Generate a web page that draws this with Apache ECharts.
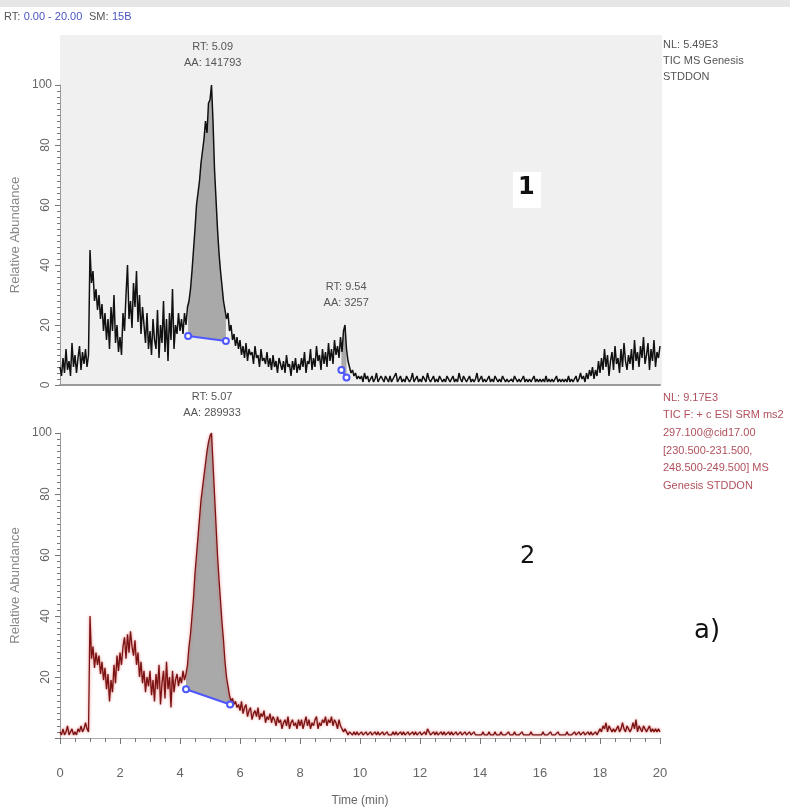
<!DOCTYPE html>
<html>
<head>
<meta charset="utf-8">
<script src="https://cdn.jsdelivr.net/npm/echarts@6/dist/echarts.min.js"></script>
<style>html,body{margin:0;padding:0;background:#fff}#c{width:790px;height:812px}</style>
</head>
<body>
<div id="c"></div>
<script>
// ---- data (time step 0.05 min, 0.00 .. 20.00) ----
const timeStep = 0.05;
const topTrace = [
 6,3,9,4,12,5,8,3,14,6,10,4,9,13,5,11,7,12,6,10,
 45,34,38,28,32,25,30,22,27,18,24,15,22,12,26,18,30,14,20,11,
 16,10,24,18,30,40,22,28,19,34,26,38,21,30,17,26,20,14,24,12,
 18,10,22,15,12,25,9,20,14,28,11,22,8,24,15,32,12,20,17,24,
 18,22,17,24,20,26,28,32,38,45,52,60,64,68,74,78,82,88,84,94,
 95,100,88,72,62,52,44,38,33,28,25,22,24,18,20,15,17,13,16,12,
 15,10,13,9,14,8,12,10,11,7,13,9,10,6,12,8,9,7,11,6,
 9,5,10,6,8,4,9,7,5,8,4,10,6,7,3,8,5,9,4,7,
 5,9,6,11,4,8,7,12,5,9,6,13,8,10,5,12,7,11,6,14,
 8,12,7,15,10,13,9,16,11,18,20,12,8,6,4,5,3,4,2,3,
 2,3,1,4,2,3,1,2,3,1,2,4,1,2,3,2,1,3,2,1,
 3,1,2,2,4,1,2,3,1,2,1,3,2,1,2,4,1,2,3,1,
 2,1,3,2,1,4,2,1,2,3,1,2,1,3,2,1,2,1,3,2,
 1,2,3,1,2,1,4,2,1,3,2,1,2,3,1,2,1,2,4,1,
 2,3,1,2,1,2,3,1,2,1,3,2,1,2,1,3,2,1,2,1,
 1,2,1,3,2,1,2,1,2,3,1,2,1,2,1,2,3,1,2,1,
 2,1,2,1,3,1,2,1,2,1,2,3,1,2,1,2,1,2,1,3,
 1,2,1,2,3,1,2,4,2,3,1,4,2,5,3,6,2,5,3,8,
 4,9,5,12,6,10,3,8,11,5,13,7,9,4,12,6,14,8,5,10,
 7,12,5,15,8,11,6,13,9,16,7,10,14,5,12,8,15,6,11,9,
 13
];
const bottomTrace = [
 2,1,3,1,2,4,1,2,3,1,2,1,3,2,4,2,3,5,3,2,
 40,26,30,23,28,24,27,21,25,19,23,16,21,12,19,15,24,18,27,22,
 28,24,30,33,26,34,28,35,30,27,32,24,28,20,25,18,22,15,20,17,
 22,14,19,12,21,16,24,11,18,22,13,25,16,20,10,22,15,19,21,17,
 20,18,22,19,21,24,30,34,40,46,54,60,66,72,78,82,86,90,94,97,
 99,100,90,80,70,60,52,45,38,32,25,20,17,14,12,13,11,12,10,11,
 9,12,8,10,11,7,9,10,6,8,9,7,10,6,8,7,9,5,7,6,
 8,5,7,6,4,7,5,6,3,5,6,4,7,3,5,6,4,5,3,6,
 4,6,3,5,7,4,6,3,5,4,6,7,3,5,4,6,5,7,4,6,
 5,7,4,6,5,3,6,4,3,2,3,2,1,2,2,1,2,1,2,1,
 1,2,1,1,2,1,1,2,1,1,2,1,2,1,1,2,1,1,2,1,
 1,1,2,1,2,1,1,2,1,2,1,1,2,1,1,2,1,2,1,1,
 2,1,1,2,1,3,2,1,1,2,1,2,1,1,2,1,2,1,1,2,
 1,2,1,1,2,1,1,2,1,1,2,1,1,2,1,1,2,1,1,1,
 1,1,2,1,1,1,2,1,1,1,2,1,1,1,2,1,1,1,1,2,
 1,1,1,2,1,1,1,1,2,1,1,1,1,1,2,1,1,1,1,1,
 1,1,2,1,1,1,1,2,1,1,1,1,2,1,1,1,1,1,2,1,
 1,1,1,2,1,1,2,1,1,2,1,1,2,1,2,1,1,2,1,2,
 3,2,4,3,5,2,4,3,2,3,2,3,4,2,3,5,3,2,4,3,
 2,3,5,3,6,2,4,3,2,4,3,2,3,4,2,3,2,3,2,3,
 2
];
// peak baselines: [startTime, startValue, endTime, endValue]
const topBaselines = [[4.27, 16.3, 5.53, 14.7], [9.38, 5, 9.55, 2.5]];
const bottomBaselines = [[4.2, 16, 5.67, 11]];
// peak labels: [time, value, text]
const topPeakLabels = [[5.09, 100, 'RT: 5.09\nAA: 141793'], [9.54, 20, 'RT: 9.54\nAA: 3257']];
const bottomPeakLabels = [[5.07, 100, 'RT: 5.07\nAA: 289933']];
const xTicks = [0, 2, 4, 6, 8, 10, 12, 14, 16, 18, 20];
const yTicks = [0, 20, 40, 60, 80, 100];
const topInfo = ['NL: 5.49E3', 'TIC MS Genesis', 'STDDON'];
const bottomInfo = ['NL: 9.17E3', 'TIC F: + c ESI SRM ms2', '297.100@cid17.00', '[230.500-231.500,', '248.500-249.500] MS', 'Genesis STDDON'];

// ---- build ----
const toXY = arr => arr.map((v, i) => [+(i * timeStep).toFixed(2), v]);
const topData = toXY(topTrace);
const bottomData = toXY(bottomTrace);

function valAt(data, t) {
  for (let i = 0; i < data.length - 1; i++) {
    if (data[i][0] <= t && data[i + 1][0] >= t) {
      const f = (t - data[i][0]) / (data[i + 1][0] - data[i][0]);
      return data[i][1] + f * (data[i + 1][1] - data[i][1]);
    }
  }
  return data[data.length - 1][1];
}
function fillRenderer(data, bases) {
  return function (params, api) {
    const b = bases[params.dataIndex];
    const pts = [api.coord([b[0], valAt(data, b[0])])];
    data.forEach(d => { if (d[0] > b[0] && d[0] < b[2]) pts.push(api.coord(d)); });
    pts.push(api.coord([b[2], valAt(data, b[2])]));
    pts.push(api.coord([b[2], b[3]]));
    pts.push(api.coord([b[0], b[1]]));
    return { type: 'polygon', shape: { points: pts }, style: { fill: '#a9a9a9' } };
  };
}
const FONT = 'Liberation Sans';
const labelColor = '#666';

function xAxisLineOnly(gridIndex, width) {
  return {
    type: 'value', gridIndex, min: 0, max: 20, interval: 2,
    axisLine: { show: true, lineStyle: { color: '#9a9a9a', width: width } },
    axisTick: { show: false }, axisLabel: { show: false }, splitLine: { show: false }
  };
}
function xAxisTicks(gridIndex) {
  return {
    type: 'value', gridIndex, min: 0, max: 20, interval: 2, position: 'bottom', offset: 5,
    axisLine: { show: true, lineStyle: { color: '#aaa', width: 1 } },
    axisTick: { show: true, length: 6, lineStyle: { color: '#777' } },
    minorTick: { show: true, splitNumber: 4, length: 4, lineStyle: { color: '#777' } },
    axisLabel: { show: true, color: labelColor, fontSize: 13, fontFamily: FONT, margin: 24,
      customValues: xTicks },
    splitLine: { show: false },
    name: 'Time (min)', nameLocation: 'middle', nameGap: 52,
    nameTextStyle: { color: labelColor, fontSize: 12, fontFamily: FONT }
  };
}
function yAxisMain(gridIndex, hideZero) {
  return {
    type: 'value', gridIndex, min: 0, max: 100, interval: 20,
    axisLine: { show: true, lineStyle: { color: '#999' } },
    axisTick: { show: true, length: 5, lineStyle: { color: '#777' } },
    minorTick: { show: true, splitNumber: 10, length: 3, lineStyle: { color: '#777' } },
    axisLabel: { color: labelColor, fontSize: 12, fontFamily: FONT, rotate: 90, margin: 8,
      formatter: v => (v === 100 || (hideZero && v === 0)) ? '' : String(v) },
    splitLine: { show: false },
    name: 'Relative Abundance', nameLocation: 'middle', nameGap: 38, nameRotate: 90,
    nameTextStyle: { color: '#888', fontSize: 13, fontFamily: FONT }
  };
}
function yAxis100(gridIndex) {
  return {
    type: 'value', gridIndex, min: 0, max: 100, interval: 20, position: 'left',
    axisLine: { show: false }, axisTick: { show: false }, splitLine: { show: false },
    axisLabel: { color: labelColor, fontSize: 12, fontFamily: FONT, margin: 8,
      formatter: v => v === 100 ? '100' : '' }
  };
}
function peakLabelPoints(labels, dist, color) {
  return {
    symbol: 'circle', symbolSize: 0, silent: true,
    data: labels.map(l => ({ coord: [l[0], l[1]], label: { formatter: l[2] } })),
    label: { show: true, position: 'top', distance: dist, color: color, fontSize: 11,
      lineHeight: 16, fontFamily: FONT, align: 'center' }
  };
}
function baselineSeries(bases, xi, yi) {
  return bases.map(b => ({
    type: 'line', xAxisIndex: xi, yAxisIndex: yi, data: [[b[0], b[1]], [b[2], b[3]]],
    symbol: 'emptyCircle', symbolSize: 6, showSymbol: true, z: 5,
    lineStyle: { color: '#4f57ff', width: 2 }, itemStyle: { color: '#4f57ff', borderWidth: 1.5 },
    silent: true, animation: false
  }));
}

const chart = echarts.init(document.getElementById('c'), null, { renderer: 'canvas' });
const infoText = (lines, top, color, lh) => ({
  type: 'text', left: 663, top: top, z: 10,
  style: { text: lines.join('\n'), fill: color, font: '11px ' + FONT, lineHeight: lh }
});
chart.setOption({
  animation: false,
  backgroundColor: '#fff',
  grid: [
    { left: 60, top: 85, width: 600, height: 300 },
    { left: 60, top: 433, width: 600, height: 305 }
  ],
  xAxis: [xAxisLineOnly(0, 2), xAxisLineOnly(1, 1), xAxisTicks(1)],
  yAxis: [yAxisMain(0, false), yAxis100(0), yAxisMain(1, true), yAxis100(1)],
  graphic: [
    { type: 'rect', shape: { x: 0, y: 0, width: 790, height: 7 }, style: { fill: '#e6e6e6' }, z: -1 },
    { type: 'rect', shape: { x: 60, y: 35, width: 602, height: 350 }, style: { fill: '#f0f0f0' }, z: -1 },
    { type: 'text', left: 4, top: 11, z: 10,
      style: { text: '{a|RT:} {b|0.00 - 20.00}  {a|SM:} {b|15B}',
        rich: { a: { fill: '#555', font: '11px ' + FONT }, b: { fill: '#4a55c0', font: '11px ' + FONT } } } },
    infoText(topInfo, 37, '#555', 16),
    infoText(bottomInfo, 389, '#b0505c', 17.6),
    { type: 'rect', shape: { x: 513, y: 172, width: 28, height: 36 }, style: { fill: '#fff' }, z: 9 },
    { type: 'text', left: 518, top: 176, z: 10, style: { text: '1', fill: '#111', font: 'bold 24px "DejaVu Sans"' } },
    { type: 'text', left: 520, top: 545, z: 10, style: { text: '2', fill: '#111', font: '24px "DejaVu Sans"' } },
    { type: 'text', left: 694, top: 618, z: 10, style: { text: 'a)', fill: '#111', font: '26px "DejaVu Sans"' } }
  ],
  series: [
    { type: 'custom', xAxisIndex: 0, yAxisIndex: 0, renderItem: fillRenderer(topData, topBaselines),
      data: topBaselines.map(b => [b[0], b[1]]), z: 1, silent: true },
    { type: 'line', xAxisIndex: 0, yAxisIndex: 0, data: topData, showSymbol: false, z: 3,
      lineStyle: { color: '#111', width: 1.5 }, markPoint: peakLabelPoints(topPeakLabels, 14, '#555') },
    ...baselineSeries(topBaselines, 0, 0),
    { type: 'custom', xAxisIndex: 1, yAxisIndex: 2, renderItem: fillRenderer(bottomData, bottomBaselines),
      data: bottomBaselines.map(b => [b[0], b[1]]), z: 1, silent: true },
    { type: 'line', xAxisIndex: 1, yAxisIndex: 2, data: bottomData, showSymbol: false, z: 3,
      lineStyle: { color: '#7a1414', width: 1.3, shadowColor: 'rgba(230,90,90,0.8)', shadowBlur: 3 },
      markPoint: peakLabelPoints(bottomPeakLabels, 12, '#555') },
    ...baselineSeries(bottomBaselines, 1, 2)
  ]
});
</script>
</body>
</html>
